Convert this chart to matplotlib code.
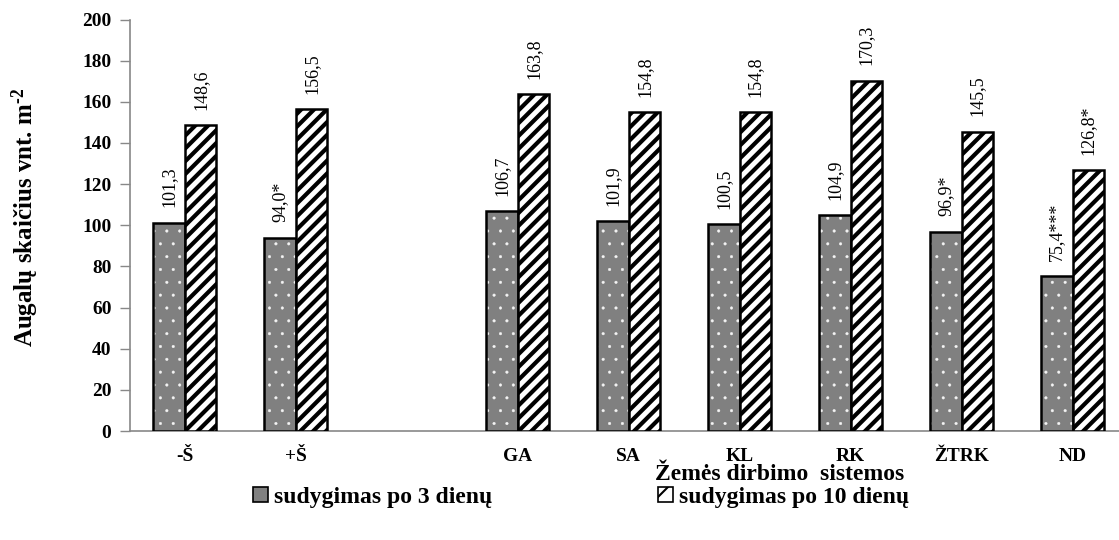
import matplotlib
matplotlib.use("Agg")
import matplotlib.pyplot as plt
from matplotlib.patches import Patch
import numpy as np

# ---- data ----
group_a = ["-Š", "+Š"]
group_b = ["GA", "SA", "KL", "RK", "ŽTRK", "ND"]
after3 = [101.3, 94.0, 106.7, 101.9, 100.5, 104.9, 96.9, 75.4]
after10 = [148.6, 156.5, 163.8, 154.8, 154.8, 170.3, 145.5, 126.8]
sig3 = ["", "*", "", "", "", "", "*", "***"]
sig10 = ["", "", "", "", "", "", "", "*"]
yticks = [0, 20, 40, 60, 80, 100, 120, 140, 160, 180, 200]
series_names = ["sudygimas po 3 dienų", "sudygimas po 10 dienų"]
xlabel = "Žemės dirbimo  sistemos"
ylabel = "Augalų skaičius vnt. m$^{\\text{-}2}$"

plt.rcParams["font.family"] = ["Liberation Serif", "DejaVu Serif"]
plt.rcParams["mathtext.fontset"] = "custom"
plt.rcParams["mathtext.rm"] = "Liberation Serif:bold"
plt.rcParams["mathtext.it"] = "Liberation Serif:bold"
plt.rcParams["mathtext.bf"] = "Liberation Serif:bold"

DPI = 77
S = 100 / DPI  # keep sizes as if drawn at 100 dpi
W, H = 1119, 540
fig = plt.figure(figsize=(W / DPI, H / DPI), dpi=DPI)
ax = fig.add_axes([129.5 / W, 109 / H, (1128 - 129.5) / W, 411.5 / H])

cats = group_a + group_b
x = np.array(list(range(len(group_a))) + [len(group_a) + 1 + i for i in range(len(group_b))], dtype=float)
bw = 0.284
gray = "#808080"

# series 1: gray with white dots
plt.rcParams["hatch.linewidth"] = 0.3 * S
ax.bar(x - bw / 2, after3, bw, color=gray, edgecolor="#f4f4f4", hatch=".", linewidth=0, zorder=2)
ax.bar(x - bw / 2, after3, bw, fill=False, edgecolor="black", linewidth=1.8 * S, zorder=3)
# series 2: white with black diagonal stripes
plt.rcParams["hatch.linewidth"] = 3.0 * S
ax.bar(x + bw / 2, after10, bw, color="white", edgecolor="black", hatch="//", linewidth=1.8 * S, zorder=3)

for xi, v, s in zip(x - bw / 2, after3, sig3):
    ax.annotate(f"{v:.1f}".replace(".", ",") + s, (xi, v), xytext=(0, 11 * S), textcoords="offset points",
                rotation=90, ha="center", va="bottom", fontsize=13 * S)
for xi, v, s in zip(x + bw / 2, after10, sig10):
    ax.annotate(f"{v:.1f}".replace(".", ",") + s, (xi, v), xytext=(0, 11 * S), textcoords="offset points",
                rotation=90, ha="center", va="bottom", fontsize=13 * S)

ax.set_xlim(-0.5, x[-1] + 0.5)
ax.set_ylim(0, 200)
ax.set_yticks(yticks)
ax.set_yticklabels([str(t) for t in yticks], fontsize=14 * S, fontweight="bold")
ax.set_xticks(x)
ax.set_xticklabels(cats, fontsize=14 * S, fontweight="bold")
ax.tick_params(axis="x", length=0, pad=12 * S)
ax.tick_params(axis="y", length=7 * S, width=1 * S, color="#888888", pad=6 * S)
for sp in ["top", "right"]:
    ax.spines[sp].set_visible(False)
for sp in ["left", "bottom"]:
    ax.spines[sp].set_color("#888888")
    ax.spines[sp].set_linewidth(1.2 * S)

fig.text(25 / W, 1 - 217 / H, ylabel, rotation=90, ha="center", va="center", fontsize=18 * S, fontweight="bold")
fig.text(780 / W, 1 - 474 / H, xlabel, ha="center", va="center", fontsize=17 * S, fontweight="bold")

h1 = Patch(facecolor=gray, edgecolor="black", linewidth=1.2 * S)
plt.rcParams["hatch.linewidth"] = 1.5 * S
h2 = Patch(facecolor="white", edgecolor="black", linewidth=1.2 * S, hatch="/")
for h, name, xpos in [(h1, series_names[0], 253), (h2, series_names[1], 658)]:
    fig.legend([h], [name], loc="center left", bbox_to_anchor=(xpos / W, 1 - 497 / H),
               frameon=False, handlelength=0.62, handleheight=0.62, handletextpad=0.25,
               borderpad=0, borderaxespad=0, prop={"weight": "bold", "size": 17 * S})

fig.savefig("out.png", dpi=DPI)
